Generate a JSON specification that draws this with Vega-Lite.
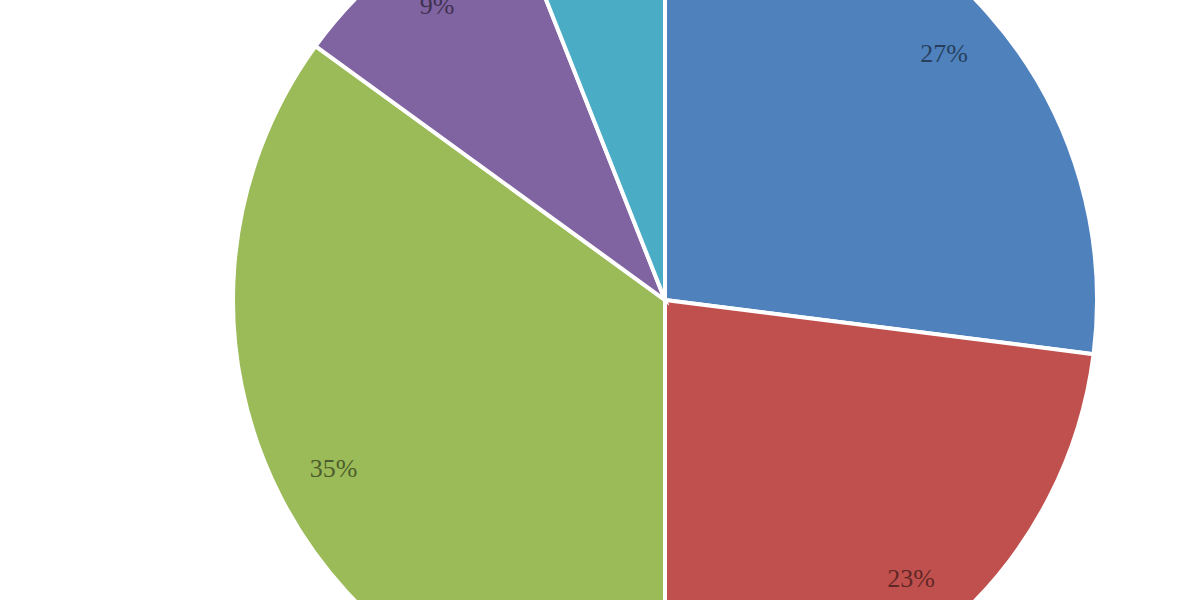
{
  "$schema": "https://vega.github.io/schema/vega-lite/v6.json",
  "autosize": {"type": "fit", "contains": "padding"},
  "width": 1200,
  "height": 600,
  "padding": {"left": 130, "right": 0, "top": 0, "bottom": 0},
  "background": "white",
  "config": {"view": {"stroke": null}},
  "data": {
    "values": [
      {"slice": "A", "pct": 27, "label": "27%"},
      {"slice": "B", "pct": 23, "label": "23%"},
      {"slice": "C", "pct": 35, "label": "35%"},
      {"slice": "D", "pct": 9, "label": "9%"},
      {"slice": "E", "pct": 6, "label": "6%"}
    ]
  },
  "encoding": {
    "theta": {"field": "pct", "type": "quantitative", "stack": true},
    "order": {"field": "slice", "type": "ordinal"},
    "color": {
      "field": "slice",
      "type": "nominal",
      "legend": null,
      "scale": {
        "domain": ["A", "B", "C", "D", "E"],
        "range": ["#4F81BD", "#C0504D", "#9BBB59", "#8064A2", "#4BACC6"]
      }
    }
  },
  "layer": [
    {
      "mark": {"type": "arc", "outerRadius": 432, "stroke": "white", "strokeWidth": 4}
    },
    {
      "mark": {"type": "text", "radius": 372, "fontSize": 26, "font": "Liberation Serif", "opacity": 0.5},
      "encoding": {
        "text": {"field": "label", "type": "nominal"},
        "color": {"value": "#000000"}
      }
    }
  ]
}
